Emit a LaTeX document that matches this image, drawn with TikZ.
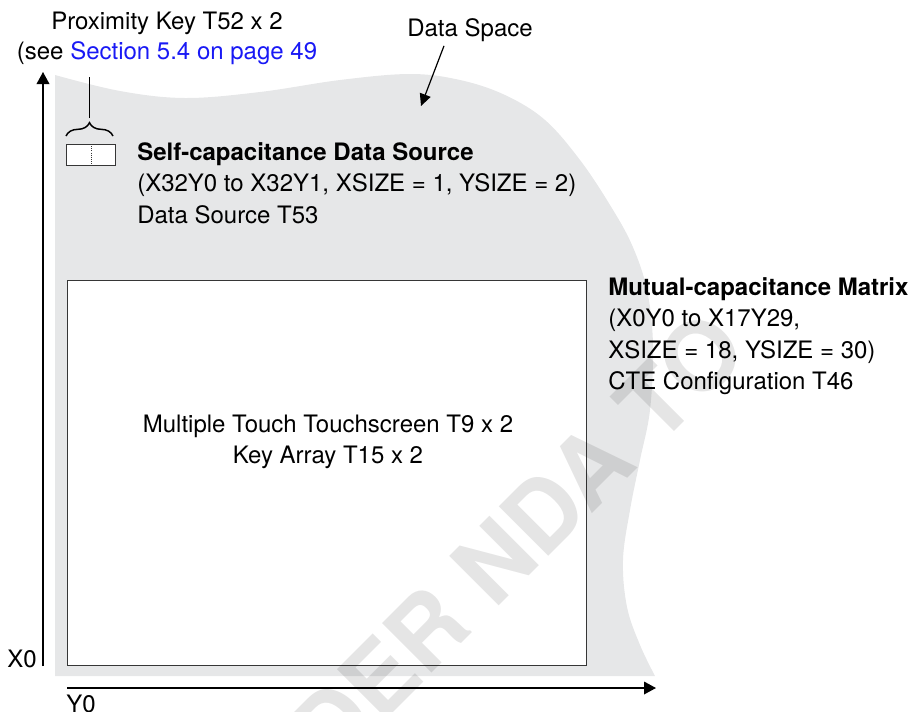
\documentclass[tikz,border=0pt]{standalone}
\usepackage{fontspec}
\setmainfont{TeX Gyre Heros}
\usetikzlibrary{arrows.meta,decorations.pathreplacing}

\definecolor{spacegray}{HTML}{E6E7E8}
\definecolor{linkblue}{RGB}{25,25,245}
\definecolor{edgegray}{HTML}{363636}

\begin{document}
\begin{tikzpicture}[x=0.75pt,y=-0.75pt,
  lbl/.style={font=\fontsize{18}{23.6}\selectfont, inner sep=0pt, align=left},
  axisline/.style={line width=1pt, -{Triangle[length=9pt,width=9.5pt]}},
  pointer/.style={line width=0.9pt, -{Triangle[length=9pt,width=8.5pt]}},
  framebox/.style={draw=edgegray, line width=1.1pt, fill=white}
]
\useasboundingbox (0,0) rectangle (910,711);

% data space region with its wavy edge
\fill[spacegray] (55,676) -- plot[smooth, tension=0.6] coordinates {
  (55,75) (120,91) (185,98) (260,92) (340,80) (410,74) (460,80)
  (505,95) (545,120) (580,160) (610,205) (632,245) (647,290)
  (653,345) (650,410) (640,460) (630,510) (623,560) (627,607)
  (640,645) (655,676)} -- cycle;

% mutual-capacitance matrix
\node[framebox, minimum width=519*0.75pt, minimum height=385*0.75pt, anchor=north west, inner sep=0pt] (matrix) at (67,280) {};

% self-capacitance source with its two keys
\node[framebox, line width=0.9pt, minimum width=49*0.75pt, minimum height=21*0.75pt, anchor=north west, inner sep=0pt] (selfbox) at (66,144) {};
\draw[edgegray, line width=0.6pt, densely dotted] (selfbox.north) -- (selfbox.south);
\draw[line width=1.1pt, decorate, decoration={brace, amplitude=10pt}]
  (66,136) -- (113,136) coordinate[midway] (bracemid);
\coordinate (bracetip) at (89.5,118);
\coordinate (leadtop) at (89.5,77);
\draw[line width=1pt] (bracetip) -- (leadtop);

% watermark
\node[rotate=45, font=\fontsize{72}{72}\selectfont\bfseries, text=black, text opacity=0.1, inner sep=0pt] (wm) at (468,588) {UNDER NDA TO};

% axes
\coordinate (ybot) at (43,666);
\coordinate (ytop) at (43,72);
\coordinate (xleft) at (67,688);
\coordinate (xright) at (656,688);
\draw[axisline] (ybot) -- (ytop);
\draw[axisline] (xleft) -- (xright);
\node[lbl] (x0) at (22,659) {X0};
\node[lbl] (y0) at (81,704) {Y0};

% labels
\node[lbl, align=center, font=\fontsize{18}{22.6}\selectfont] (prox) at (167,38)
  {Proximity Key T52 x 2\\(see \textcolor{linkblue}{Section 5.4 on page 49}};
\node[lbl] (dslabel) at (470,30) {Data Space};
\coordinate (dstip) at (421,106);
\draw[pointer] (dslabel.south) ++(-26*0.75pt,-4*0.75pt) coordinate (dsstart) -- (dstip);

\node[lbl, anchor=north west] (selflabel) at (137,142)
  {\textbf{Self-capacitance Data Source}\\(X32Y0 to X32Y1, XSIZE = 1, YSIZE = 2)\\Data Source T53};
\node[lbl, anchor=north west] (mutlabel) at (608,277)
  {\textbf{Mutual-capacitance Matrix}\\(X0Y0 to X17Y29,\\XSIZE = 18, YSIZE = 30)\\CTE Configuration T46};
\node[lbl, align=center] (mtlabel) at (328,442)
  {Multiple Touch Touchscreen T9 x 2\\Key Array T15 x 2};
\end{tikzpicture}
\end{document}
